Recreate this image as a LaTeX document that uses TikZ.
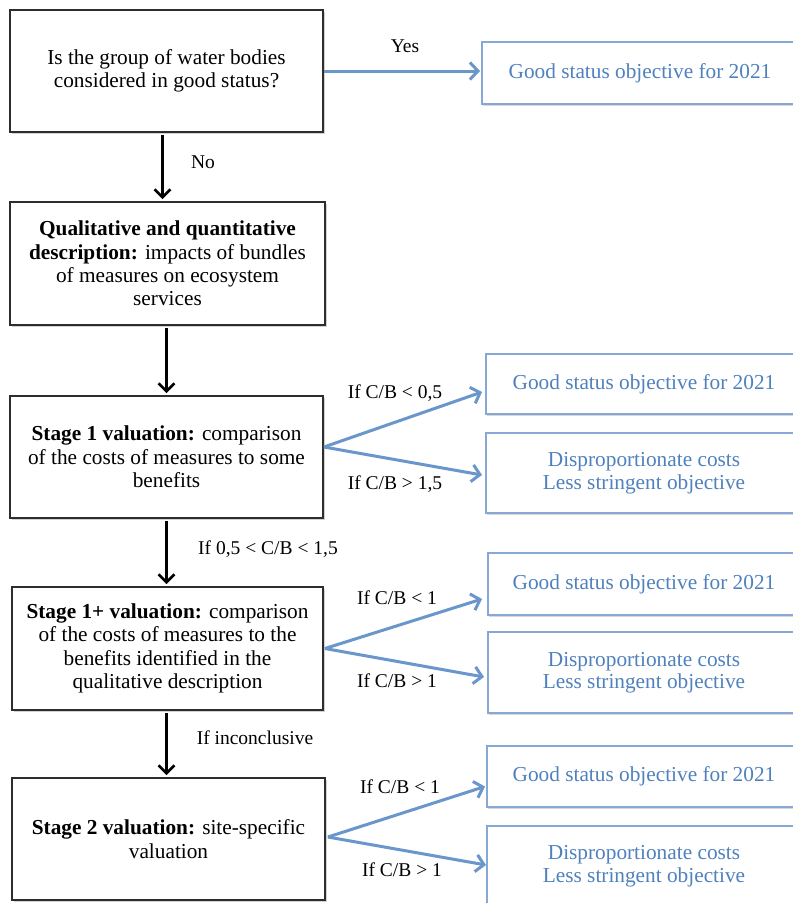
\documentclass[tikz,border=0pt]{standalone}
\usepackage{fontspec}
\setmainfont{Liberation Serif}
\usetikzlibrary{arrows.meta,shadows,calc}
\definecolor{bluetext}{RGB}{79,129,189}
\definecolor{blueborder}{RGB}{135,168,214}
\definecolor{bluearrow}{RGB}{105,150,203}
\definecolor{boxline}{RGB}{45,45,45}
\tikzset{
  mainbox/.style={draw=boxline, line width=1.8pt, fill=white, align=center,
    inner sep=3pt, font=\fontsize{21.3}{23.3}\selectfont,
    drop shadow={shadow xshift=1.5pt, shadow yshift=-1.5pt, opacity=0.35}},
  outbox/.style={draw=blueborder, line width=2pt, fill=white, align=center,
    text=bluetext, font=\fontsize{21.3}{22.5}\selectfont,
    drop shadow={shadow xshift=1pt, shadow yshift=-2pt, opacity=0.3}},
  downarrow/.style={line width=2.6pt, black, -{Straight Barb[length=8pt,width=16pt,line width=2.6pt]}},
  bluearr/.style={line width=3pt, bluearrow, -{Straight Barb[length=8pt,width=17pt,line width=3pt]}},
  lbl/.style={font=\fontsize{19.5}{21}\selectfont, inner sep=0pt}
}
\begin{document}
\begin{tikzpicture}[x=1pt,y=-1pt]
\useasboundingbox (0,0) rectangle (793,903);
\clip (0,0) rectangle (793,903);
\fill[white] (0,0) rectangle (793,903);

% main column
\node[mainbox, minimum width=313pt, minimum height=122pt] (q) at (166.5,71)
  {Is the group of water bodies\\considered in good status?};
\node[mainbox, minimum width=315pt, minimum height=123pt] (d) at (167.5,263.5)
  {\textbf{Qualitative and quantitative}\\\textbf{description:} impacts of bundles\\of measures on ecosystem\\services};
\node[mainbox, minimum width=313pt, minimum height=122pt] (s1) at (166.5,457)
  {\textbf{Stage 1 valuation:} comparison\\of the costs of measures to some\\benefits};
\node[mainbox, minimum width=311pt, minimum height=123pt] (s1p) at (167.5,648.5)
  {\textbf{Stage 1+ valuation:} comparison\\of the costs of measures to the\\benefits identified in the\\qualitative description};
\node[mainbox, minimum width=313pt, minimum height=122pt] (s2) at (168.5,839)
  {\textbf{Stage 2 valuation:} site-specific\\valuation};

% outcome boxes
\node[outbox, minimum width=316pt, minimum height=62pt] (a) at (640,73) {Good status objective for 2021};
\node[outbox, minimum width=316pt, minimum height=60pt] (b1) at (644,384) {Good status objective for 2021};
\node[outbox, minimum width=316pt, minimum height=80pt] (b2) at (644,473) {Disproportionate costs\\Less stringent objective};
\node[outbox, minimum width=312pt, minimum height=62pt] (c1) at (644,584) {Good status objective for 2021};
\node[outbox, minimum width=312pt, minimum height=81pt] (c2) at (644,672.5) {Disproportionate costs\\Less stringent objective};
\node[outbox, minimum width=314pt, minimum height=61pt] (d1) at (644,776.5) {Good status objective for 2021};
\node[outbox, minimum width=314pt, minimum height=80pt] (d2) at (644,866) {Disproportionate costs\\Less stringent objective};

% vertical arrows
\draw[downarrow] ($(q.south)+(-4,2)$) -- ($(d.north)+(-5,-2)$);
\draw[downarrow] ($(d.south)+(-1,2)$) -- ($(s1.north)+(0,-2)$);
\draw[downarrow] ($(s1.south)+(0,2)$) -- ($(s1p.north)+(-1,-2)$);
\draw[downarrow] ($(s1p.south)+(-1,2)$) -- ($(s2.north)+(-2,-2)$);

% blue arrows
\draw[bluearr] (q.east) -- ($(a.west)+(-1,-2)$);
\draw[bluearr] ($(s1.east)+(0,-10)$) -- ($(b1.west)+(-3,8)$);
\draw[bluearr] ($(s1.east)+(0,-10)$) -- ($(b2.west)+(-3,2)$);
\draw[bluearr] ($(s1p.east)+(1,0)$) -- ($(c1.west)+(-5,15)$);
\draw[bluearr] ($(s1p.east)+(1,0)$) -- ($(c2.west)+(-3,4.5)$);
\draw[bluearr] ($(s2.east)+(2,-2)$) -- ($(d1.west)+(-1,10)$);
\draw[bluearr] ($(s2.east)+(2,-2)$) -- ($(d2.west)+(0,-1)$);

% labels
\node[lbl] (lyes) at (405,46) {Yes};
\node[lbl] (lno) at (203,162) {No};
\node[lbl] (l1) at (395,393) {If C/B < 0,5};
\node[lbl] (l2) at (395,484) {If C/B > 1,5};
\node[lbl] (l3) at (268,549) {If 0,5 < C/B < 1,5};
\node[lbl] (l4) at (397,598) {If C/B < 1};
\node[lbl] (l5) at (397,681) {If C/B > 1};
\node[lbl] (l6) at (255,738) {If inconclusive};
\node[lbl] (l7) at (400,787) {If C/B < 1};
\node[lbl] (l8) at (402,870) {If C/B > 1};
\end{tikzpicture}
\end{document}
